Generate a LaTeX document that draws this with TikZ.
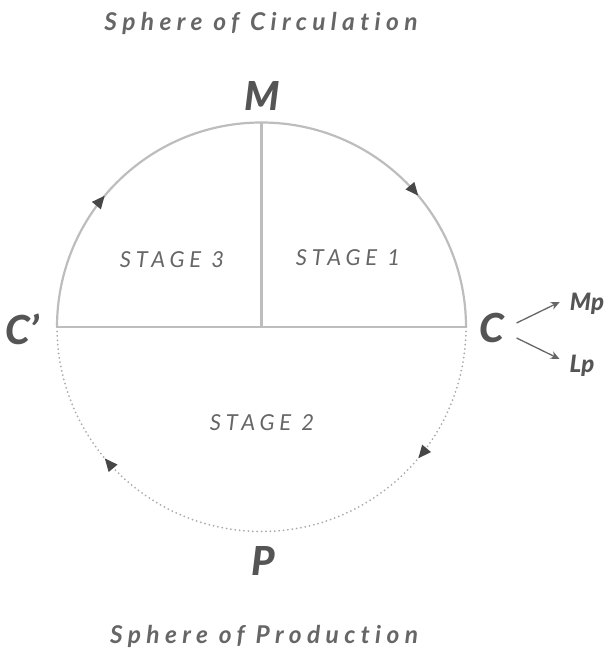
\documentclass[tikz,border=0pt]{standalone}
\usepackage{fontspec}
\setmainfont{Lato}
\IfFontExistsTF{Lato Black Italic}{\newfontfamily\heavyfont{Lato Black Italic}}{%
  \IfFontExistsTF{Lato-BlackItalic}{\newfontfamily\heavyfont{Lato-BlackItalic}}{%
    \newfontfamily\heavyfont{Lato Bold Italic}[FakeBold=1.2]}}
\newfontfamily\spherefont{Lato Bold Italic}[LetterSpace=22,Ligatures=NoCommon]
\newfontfamily\stagefont{Lato Italic}[LetterSpace=22,Ligatures=NoCommon]
\usetikzlibrary{arrows.meta,decorations.markings}
\definecolor{circlegray}{HTML}{BDBDBD}
\definecolor{dotgray}{HTML}{ABABAB}
\definecolor{ink}{HTML}{555555}
\definecolor{tipgray}{HTML}{474747}
\definecolor{labelgray}{HTML}{666666}

\begin{document}
\begin{tikzpicture}[x=1pt,y=1pt,
  rim/.style={draw=circlegray, line width=2.2pt},
  dotrim/.style={draw=dotgray, line width=2pt, line cap=round, dash pattern=on 0pt off 4.4pt},
  flowtips/.style={postaction={decorate}, decoration={markings,
      mark=at position 0.222 with {\arrow[tipgray]{Triangle[length=13pt,width=11pt]}},
      mark=at position 0.778 with {\arrow[tipgray]{Triangle[length=13pt,width=11pt]}}}},
  point/.style={font=\heavyfont\fontsize{40}{40}\selectfont, text=ink, inner sep=0pt},
  subpoint/.style={font=\heavyfont\fontsize{24}{24}\selectfont, text=ink, inner sep=0pt},
  sphere/.style={font=\spherefont\fontsize{24.5}{28}\selectfont, text=labelgray},
  stage/.style={font=\stagefont\fontsize{22}{26}\selectfont, text=labelgray},
  ptr/.style={draw=labelgray, line width=1.3pt, -{Stealth[length=9pt,width=8pt]}}]
\useasboundingbox (0,0) rectangle (605,653);

\coordinate (O) at (261.5,326);
\coordinate (west) at (57,326);
\coordinate (east) at (466,326);
\coordinate (top) at (261.5,530.5);

\draw[rim, flowtips] (west) arc[start angle=180, end angle=0, radius=204.5];
\draw[dotrim, flowtips] (east) arc[start angle=0, end angle=-180, radius=204.5];
\draw[rim] (west) -- (east);
\draw[rim] (top) -- (O);

\node[point] (M) at (262,557) {M};
\node[point] (P) at (263,92) {P};
\node[point] (Cp) at (22,324) {C’};
\node[point] (C) at (492,325) {C};
\node[subpoint] (Mp) at (587,349) {Mp};
\node[subpoint] (Lp) at (582,287) {Lp};

\draw[ptr] ([xshift=12pt,yshift=5pt]C.east) -- ([xshift=-10pt,yshift=2pt]Mp.west);
\draw[ptr] ([xshift=12pt,yshift=-10pt]C.east) -- ([xshift=-10pt,yshift=7pt]Lp.west);

\node[stage] (s3) at (172,393) {STAGE 3};
\node[stage] (s1) at (348,395) {STAGE 1};
\node[stage] (s2) at (262,230) {STAGE 2};

\node[sphere] (circ) at (261,630) {Sphere of Circulation};
\node[sphere] (prod) at (264,17) {Sphere of Production};
\end{tikzpicture}
\end{document}
